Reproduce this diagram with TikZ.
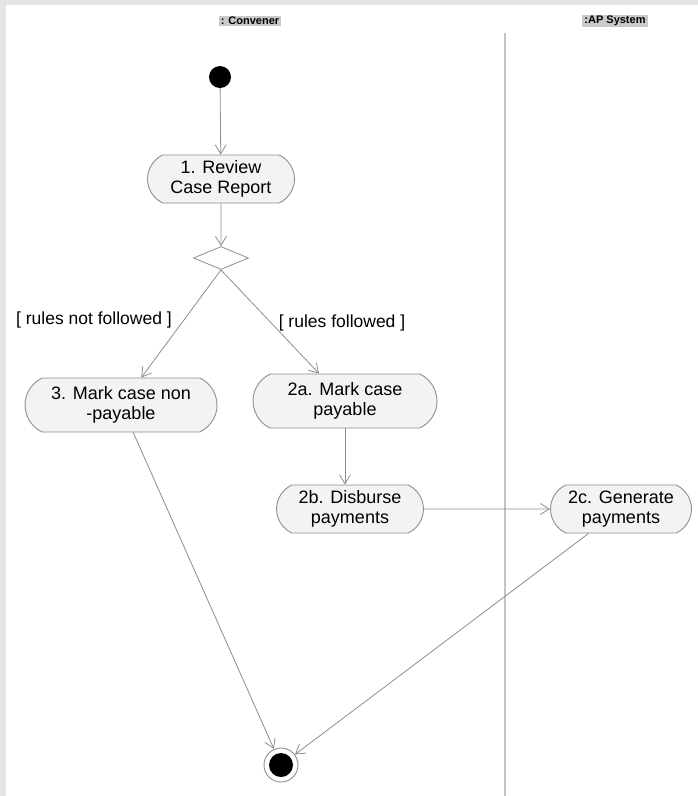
\documentclass[tikz,border=0pt]{standalone}
\usepackage{fontspec}
\setmainfont{Liberation Sans}
\usetikzlibrary{shapes.misc,shapes.geometric,arrows.meta}
\definecolor{framegray}{HTML}{E4E4E4}
\definecolor{edge}{HTML}{8E8E8E}
\definecolor{actfill}{HTML}{F3F3F3}
\definecolor{hdrfill}{HTML}{C9C9C9}
\definecolor{lanegray}{HTML}{C4C4C4}
\begin{document}
\begin{tikzpicture}[x=1pt,y=-1pt,
  action/.style={rounded rectangle, rounded rectangle arc length=130,
    draw=edge, fill=actfill, line width=0.9pt, inner sep=0pt,
    font=\fontsize{18}{20}\selectfont, align=center},
  lanehead/.style={fill=hdrfill, inner xsep=2pt, inner ysep=1.5pt,
    font=\fontsize{11}{12}\selectfont\bfseries},
  guard/.style={font=\fontsize{17.5}{20}\selectfont},
  flow/.style={draw=edge, line width=0.8pt,
    -{Straight Barb[length=9pt,width=11pt,line width=0.8pt]}}]
% page and outer frame
\fill[framegray] (0,0) rectangle (698,796);
\fill[white] (6,5) rectangle (698,796);
\useasboundingbox (0,0) rectangle (698,796);

% swimlane headers and divider
\node[lanehead] (convener) at (250,21) {: Convener};
\node[lanehead] (apsys) at (615,21) {:AP System};
\coordinate (lanetop) at (505,33);
\coordinate (lanebot) at (505,796);
\draw[lanegray, line width=1.3pt] (lanetop) -- (lanebot);

% control nodes
\node[circle, fill=black, minimum size=22pt, inner sep=0pt] (init) at (220,77) {};
\node[diamond, draw=edge, fill=white, line width=0.8pt, minimum width=55pt,
      minimum height=23pt, inner sep=0pt] (dec) at (221,258) {};
\node[circle, draw=edge, line width=0.9pt, fill=white, minimum size=34pt,
      inner sep=0pt] (final) at (281,765) {};
\fill[black] (final.center) circle (12pt);

% actions
\node[action, minimum width=147pt, minimum height=48pt] (review) at (221,179)
  {1. Review\\Case Report};
\node[action, minimum width=192pt, minimum height=54pt] (nonpay) at (121,405)
  {3. Mark case non\\-payable};
\node[action, minimum width=184pt, minimum height=54pt] (pay) at (345,401)
  {2a. Mark case\\payable};
\node[action, minimum width=147pt, minimum height=48pt] (disb) at (350,509)
  {2b. Disburse\\payments};
\node[action, minimum width=141pt, minimum height=48pt] (gen) at (621,509)
  {2c. Generate\\payments};

% guards
\node[guard] (gno) at (94,320) {[ rules not followed ]};
\node[guard] (gyes) at (342,323) {[ rules followed ]};

% control flows
\draw[flow] (init) -- (review);
\draw[flow] (review) -- (dec);
\draw[flow] (dec.south) -- (nonpay);
\draw[flow] (dec.south) -- (pay);
\draw[flow] (pay.south) -- (pay.south |- disb.north);
\draw[flow] (disb) -- (gen);
\draw[flow] (nonpay) -- (final);
\draw[flow] (gen) -- (final);
\end{tikzpicture}
\end{document}
